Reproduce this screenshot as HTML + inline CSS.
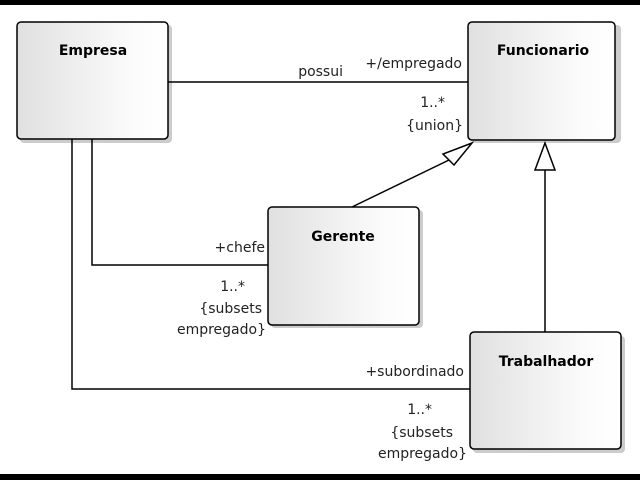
<!DOCTYPE html>
<html><head><style>
html,body{margin:0;padding:0;background:#fff;}
</style></head><body>
<svg width="640" height="480" viewBox="0 0 640 480" xmlns="http://www.w3.org/2000/svg" font-family="'DejaVu Sans','Liberation Sans',sans-serif">
<defs>
<linearGradient id="g" x1="0" y1="0" x2="1" y2="0">
<stop offset="0" stop-color="#e0e0e0"/><stop offset="0.75" stop-color="#fbfbfb"/><stop offset="1" stop-color="#ffffff"/>
</linearGradient>
</defs>
<rect x="0" y="0" width="640" height="5" fill="#000"/>
<rect x="0" y="474" width="640" height="6" fill="#000"/>
<g fill="#ccc">
<rect x="20" y="25" width="152" height="118" rx="4"/>
<rect x="471" y="25" width="150" height="118" rx="4"/>
<rect x="271" y="210" width="152" height="118" rx="4"/>
<rect x="473" y="336" width="152" height="117" rx="4"/>
</g>
<g fill="url(#g)" stroke="#000" stroke-width="1.5">
<rect x="17" y="22" width="151" height="117" rx="4"/>
<rect x="468" y="22" width="147" height="118" rx="4"/>
<rect x="268" y="207" width="151" height="118" rx="4"/>
<rect x="470" y="332" width="151" height="117" rx="4"/>
</g>
<g font-weight="bold" font-size="14" text-anchor="middle">
<text x="93" y="55">Empresa</text>
<text x="543" y="55">Funcionario</text>
<text x="343" y="241">Gerente</text>
<text x="546" y="366">Trabalhador</text>
</g>
<g stroke="#000" stroke-width="1.5" fill="none">
<line x1="168" y1="82" x2="468" y2="82"/>
<polyline points="92,139 92,265 268,265"/>
<polyline points="72,139 72,389 470,389"/>
<line x1="352" y1="207" x2="449" y2="160"/>
<polygon points="472,143 443,154 454,165" fill="#fff"/>
<line x1="545" y1="332" x2="545" y2="170"/>
<polygon points="545,143 535,170 555,170" fill="#fff"/>
</g>
<g font-size="14" fill="#222" text-anchor="end">
<text x="343" y="76">possui</text>
<text x="462" y="68">+/empregado</text>
<text x="445" y="107">1..*</text>
<text x="463" y="130">{union}</text>
<text x="265" y="252">+chefe</text>
<text x="245" y="291">1..*</text>
<text x="262" y="313">{subsets</text>
<text x="266" y="334">empregado}</text>
<text x="464" y="376">+subordinado</text>
<text x="432" y="414">1..*</text>
<text x="453" y="437">{subsets</text>
<text x="467" y="458">empregado}</text>
</g>
</svg>
</body></html>
